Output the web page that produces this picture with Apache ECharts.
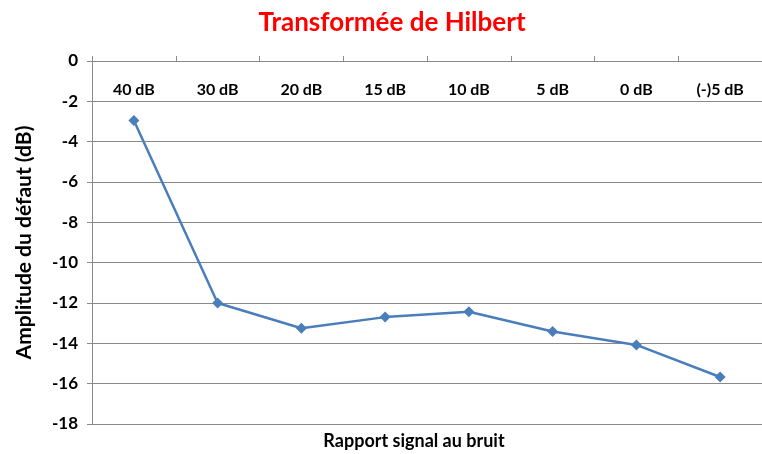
<!DOCTYPE html>
<html>
<head>
<meta charset="utf-8">
<script src="https://cdn.jsdelivr.net/npm/echarts@6/dist/echarts.min.js"></script>
<style>
  html, body { margin: 0; padding: 0; background: #fff; }
  #chart { width: 762px; height: 454px; }
</style>
</head>
<body>
<div id="chart"></div>
<script>
// Signal-to-noise ratios (categories) and the measured defect amplitude in dB
const categories = ['40 dB', '30 dB', '20 dB', '15 dB', '10 dB', '5 dB', '0 dB', '(-)5 dB'];
const amplitudes = [-2.95, -12.0, -13.25, -12.7, -12.43, -13.41, -14.08, -15.67];
const yMin = -18;
const yMax = 0;
const yStep = 2;

const FONT = 'Lato';
const gridColor = '#8a8a8a';

const chart = echarts.init(document.getElementById('chart'));
chart.setOption({
  animation: false,
  backgroundColor: '#ffffff',
  title: [{
    text: 'Transformée de Hilbert',
    left: 387,
    textAlign: 'center',
    top: 5,
    textStyle: { color: '#ff0000', fontFamily: FONT, fontWeight: 'bold', fontSize: 26 }
  }, {
    text: 'Rapport signal au bruit',
    left: 409,
    textAlign: 'center',
    top: 427,
    textStyle: { color: '#000', fontFamily: FONT, fontWeight: 'bold', fontSize: 18 }
  }],
  grid: { left: 92, top: 61, width: 679, height: 363, containLabel: false },
  xAxis: {
    type: 'category',
    data: categories,
    position: 'top',
    boundaryGap: true,
    axisLine: { show: true, lineStyle: { color: gridColor, width: 1 } },
    axisTick: { show: true, inside: false, length: 5, lineStyle: { color: gridColor } },
    axisLabel: {
      inside: true, margin: 21, color: '#000',
      fontFamily: FONT, fontWeight: 'bold', fontSize: 16
    },
    splitLine: { show: false }
  },
  yAxis: {
    type: 'value',
    min: yMin, max: yMax, interval: yStep,
    name: 'Amplitude du défaut (dB)',
    nameLocation: 'middle',
    nameGap: 57,
    nameRotate: 90,
    nameTextStyle: { color: '#000', fontFamily: FONT, fontWeight: 'bold', fontSize: 21 },
    axisLine: { show: true, lineStyle: { color: gridColor, width: 1 } },
    axisTick: { show: true, length: 5, lineStyle: { color: gridColor } },
    axisLabel: { color: '#000', fontFamily: FONT, fontWeight: 'bold', fontSize: 17, margin: 14 },
    splitLine: { show: true, lineStyle: { color: gridColor, width: 1 } }
  },
  series: [{
    type: 'line',
    data: amplitudes,
    symbol: 'diamond',
    symbolSize: 11,
    lineStyle: { color: '#4a7ebb', width: 2.5 },
    itemStyle: { color: '#4a7ebb' }
  }]
});
</script>
</body>
</html>
